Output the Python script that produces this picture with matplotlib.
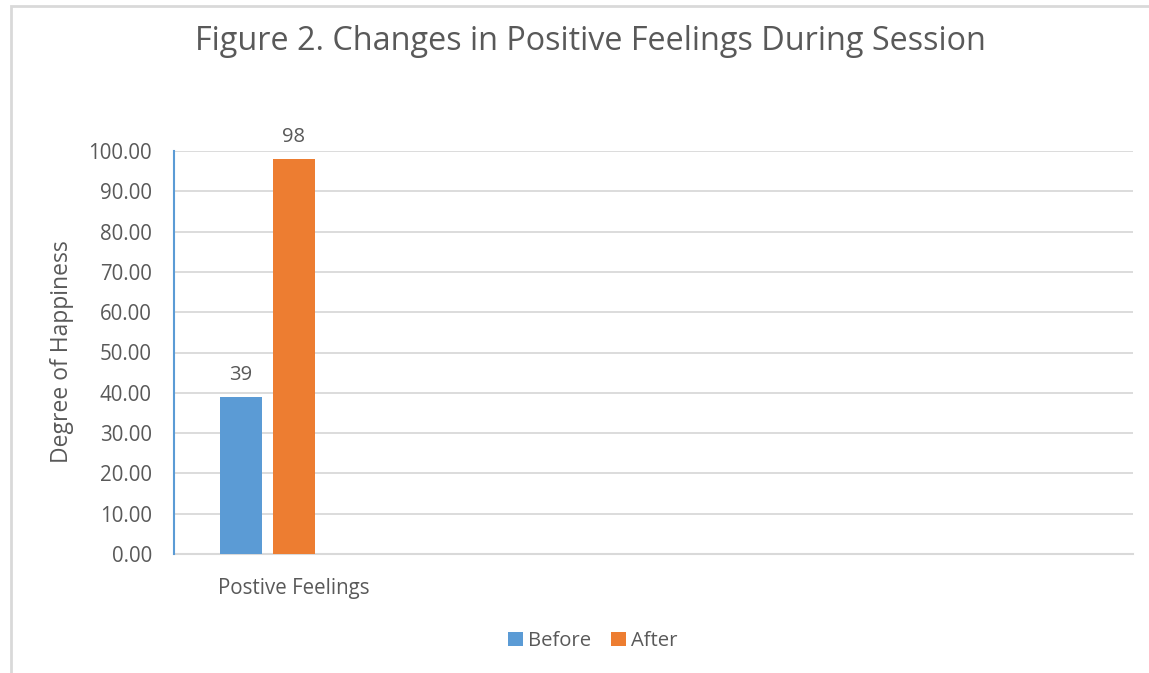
import matplotlib
matplotlib.use("Agg")
import matplotlib.pyplot as plt
from matplotlib.patches import Rectangle, Patch

categories = ["Postive Feelings"]
series_names = ["Before", "After"]
before_values = [39]
after_values = [98]
yticks = [0, 10, 20, 30, 40, 50, 60, 70, 80, 90, 100]

colors = ["#5B9BD5", "#ED7D31"]
text_color = "#595959"
grid_color = "#D9D9D9"

plt.rcParams['font.family'] = ['Open Sans', 'DejaVu Sans']

W, H = 1149, 673
fig = plt.figure(figsize=(W/100, H/100), dpi=100)

# outer chart border (extends beyond right/bottom)
fig.patches.append(Rectangle((11/W, -0.5), 2, 1 - 6/H + 0.5, transform=fig.transFigure,
                             fill=False, edgecolor=grid_color, linewidth=2))

ax = fig.add_axes([174/W, 1 - 554/H, (1133-174)/W, (554-151)/H])

offsets = [-0.221, 0.0]
width = 0.175
all_vals = [before_values, after_values]
for i, (name, vals) in enumerate(zip(series_names, all_vals)):
    xs = [0.5 + j + offsets[i] for j in range(len(categories))]
    ax.bar(xs, vals, width=width, color=colors[i], label=name, zorder=3)
    for x, v in zip(xs, vals):
        ax.text(x, v + 3.0, f"{v}", ha="center", va="bottom", fontsize=14.5, color=text_color)

ax.set_xlim(0, 4)
ax.set_ylim(0, 100)
ax.set_yticks(yticks)
ax.set_yticklabels([f"{t:.2f}" for t in yticks], fontsize=14.8, color=text_color)
ax.set_xticks([0.5 + j for j in range(len(categories))])
ax.set_xticklabels(categories, fontsize=14.8, color=text_color)
ax.tick_params(axis="both", length=0)
ax.tick_params(axis="x", pad=17)
ax.tick_params(axis="y", pad=16)
ax.grid(axis="y", color=grid_color, linewidth=1.3, zorder=0)
for s in ["top", "right"]:
    ax.spines[s].set_visible(False)
ax.spines["left"].set_color("#5B9BD5")
ax.spines["left"].set_linewidth(1.5)
ax.spines["bottom"].set_color(grid_color)
ax.spines["bottom"].set_linewidth(1.5)
ax.spines["left"].set_zorder(4)

fig.text(62/W, 1 - 352/H, "Degree of Happiness", rotation=90, ha="center", va="center",
         fontsize=16.5, color=text_color)

fig.text(590/W, 1 - 41/H, "Figure 2. Changes in Positive Feelings During Session",
         ha="center", va="center", fontsize=23.3, color=text_color)

handles = [Patch(facecolor=c, label=n) for c, n in zip(colors, series_names)]
fig.legend(handles=handles, loc="center", bbox_to_anchor=(593/W, 1 - 641/H), ncol=2,
           frameon=False, fontsize=14.6, labelcolor=text_color, handlelength=0.72,
           handleheight=0.72, handletextpad=0.25, columnspacing=1.0)

fig.savefig("out.png", dpi=100)
